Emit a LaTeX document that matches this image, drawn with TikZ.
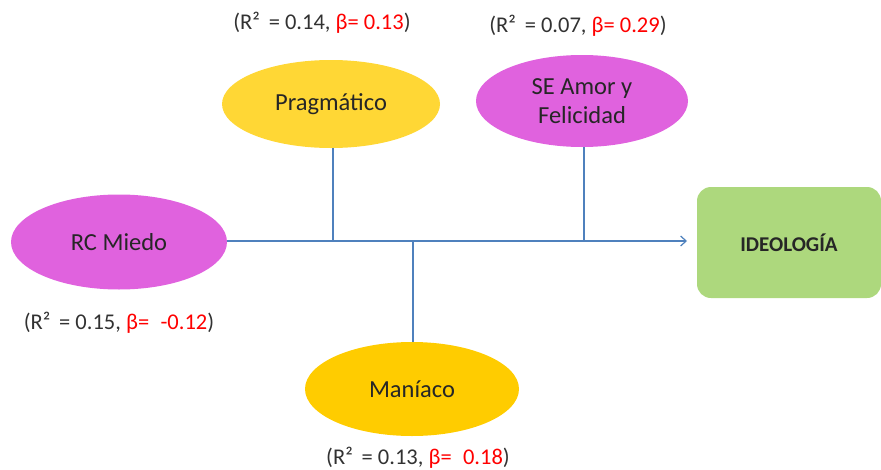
\documentclass[tikz,border=0pt]{standalone}
\usepackage{fontspec}
\setmainfont{Carlito}
\usetikzlibrary{shapes.geometric,arrows.meta}
\definecolor{gold1}{RGB}{255,215,53}
\definecolor{gold2}{RGB}{255,204,0}
\definecolor{mag}{RGB}{224,98,222}
\definecolor{grn}{RGB}{173,216,125}
\definecolor{lblue}{RGB}{79,129,189}
\definecolor{lgray}{RGB}{50,50,50}
\tikzset{
  ell/.style={ellipse,inner sep=0pt,minimum width=216pt,minimum height=92pt,font=\fontsize{24.5}{29}\selectfont,text=black!85,align=center},
  conn/.style={draw=lblue,line width=1.2pt},
  stat/.style={font=\fontsize{22.5}{26}\selectfont,text=lgray,inner sep=0pt},
}
\newcommand{\bred}[1]{\textcolor{red}{#1}}
\begin{document}
\begin{tikzpicture}[x=1pt,y=-1pt]
\useasboundingbox (0,0) rectangle (881,469);
\node[ell,fill=gold1,minimum width=218pt,minimum height=88pt] (prag) at (331,104) {Pragmático};
\node[ell,fill=mag,minimum width=212pt,minimum height=92pt] (amor) at (582,101) {SE Amor y\\Felicidad};
\node[ell,fill=mag,minimum width=216pt,minimum height=95pt] (miedo) at (119,242) {RC Miedo};
\node[ell,fill=gold2,minimum width=214pt,minimum height=94pt] (mania) at (412,389) {Maníaco};
\node[draw=none,fill=grn,rounded corners=14pt,minimum width=184pt,minimum height=111pt,inner sep=0pt,font=\fontsize{21}{25}\selectfont\bfseries,text=black!85] (ideo) at (789,242.5) {IDEOLOGÍA};
\coordinate (end) at (687,241);
\coordinate (j1) at (333,241);
\coordinate (j2) at (584,241);
\coordinate (j3) at (413,241);
\draw[conn,-{Straight Barb[length=5.5pt,width=10pt]}] (miedo.east |- end) -- (end);
\draw[conn] (j1 |- prag.south) -- (j1);
\draw[conn] (j2 |- amor.south) -- (j2);
\draw[conn] (j3) -- (j3 |- mania.north);
\node[stat] (s1) at (322,23) {(R² \,= 0.14, \bred{β= 0.13})};
\node[stat] (s2) at (578,26) {(R² \,= 0.07, \bred{β= 0.29})};
\node[stat] (s3) at (119,323) {(R² \,= 0.15, \bred{β=\; -0.12})};
\node[stat] (s4) at (418,457.5) {(R² \,= 0.13, \bred{β=\; 0.18})};
\end{tikzpicture}
\end{document}
